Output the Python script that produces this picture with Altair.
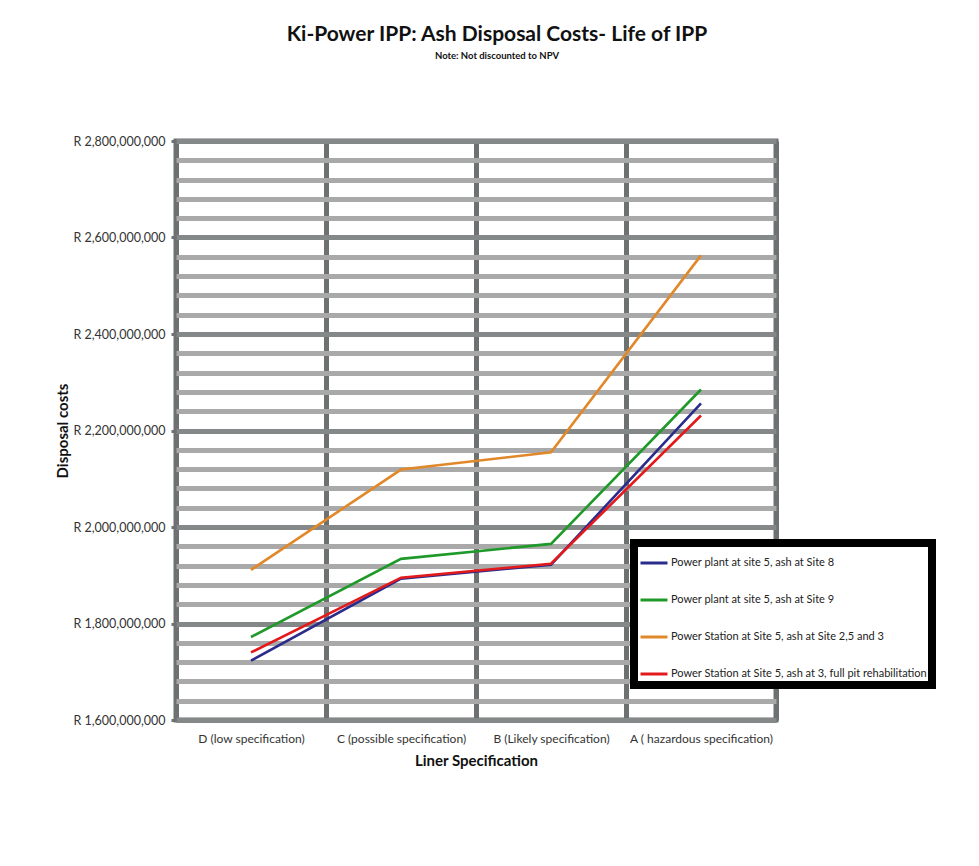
import altair as alt
import pandas as pd

categories = [
    "D (low specification)",
    "C (possible specification)",
    "B (Likely specification)",
    "A ( hazardous specification)",
]
series_names = [
    "Power plant at site 5, ash at Site 8",
    "Power plant at site 5, ash at Site 9",
    "Power Station at Site 5, ash at Site 2,5 and 3",
    "Power Station at Site 5, ash at 3, full pit rehabilitation",
]
site8 = [1723e6, 1893e6, 1922e6, 2256e6]
site9 = [1772e6, 1934e6, 1965e6, 2285e6]
site253 = [1911e6, 2119e6, 2155e6, 2563e6]
pit = [1740e6, 1895e6, 1924e6, 2231e6]
colors = ["#2b2b8c", "#1f9a2a", "#e0882a", "#e31a1c"]

y_ticks = [1600000000 + k * 40000000 for k in range(31)]

rows = []
for name, vals in zip(series_names, [site8, site9, site253, pit]):
    for c, v in zip(categories, vals):
        rows.append({"spec": c, "cost": v, "series": name})
df = pd.DataFrame(rows)

FONT = "Lato"

chart = (
    alt.Chart(df)
    .mark_line(strokeWidth=2.6)
    .encode(
        x=alt.X(
            "spec:N",
            sort=categories,
            bandPosition=0.5,
            scale=alt.Scale(type="band", paddingInner=0, paddingOuter=0),
            axis=alt.Axis(
                title="Liner Specification",
                tickBand="extent",
                grid=True,
                gridColor="#6d7171",
                gridWidth=5,
                ticks=False,
                domain=False,
                labelAngle=0,
                labelFont=FONT,
                labelFontSize=12,
                labelColor="#333333",
                labelPadding=13,
                titleFont=FONT,
                titleFontSize=15,
                titleFontWeight="bold",
                titleColor="#111111",
                titlePadding=9,
            ),
        ),
        y=alt.Y(
            "cost:Q",
            scale=alt.Scale(domain=[1600000000, 2800000000], nice=False, zero=False),
            axis=alt.Axis(
                title="Disposal costs",
                values=y_ticks,
                labelExpr="datum.value % 200000000 == 0 ? 'R ' + format(datum.value, ',') : ''",
                grid=True,
                gridColor={
                    "condition": {"test": "datum.value % 200000000 == 0", "value": "#858888"},
                    "value": "#a9a9a9",
                },
                gridWidth=5,
                domain=False,
                ticks=True,
                tickSize=5,
                tickWidth=3,
                tickColor="#6d7171",
                tickOpacity={
                    "condition": {"test": "datum.value % 200000000 == 0", "value": 1},
                    "value": 0,
                },
                labelFont=FONT,
                labelFontSize=12.5,
                labelColor="#333333",
                labelPadding=6,
                titleFont=FONT,
                titleFontSize=15,
                titleFontWeight="bold",
                titleColor="#111111",
                titlePadding=2,
            ),
        ),
        color=alt.Color(
            "series:N",
            sort=series_names,
            scale=alt.Scale(domain=series_names, range=colors),
            legend=alt.Legend(
                title=None,
                orient="none",
                legendX=458,
                legendY=402,
                direction="vertical",
                fillColor="white",
                padding=5,
                symbolType="stroke",
                symbolSize=729,
                symbolStrokeWidth=3,
                labelFont=FONT,
                labelFontSize=11,
                labelColor="#222222",
                labelLimit=262,
                labelOffset=2,
                rowPadding=16,
            ),
        ),
    )
    .properties(
        width=600,
        height=579,
        autosize=alt.AutoSizeParams(type="none"),
        padding={"left": 168, "top": 133, "right": 195, "bottom": 138},
        background="white",
        title=alt.TitleParams(
            text="Ki-Power IPP: Ash Disposal Costs- Life of IPP",
            subtitle="Note: Not discounted to NPV",
            font=FONT,
            fontSize=21,
            fontWeight="bold",
            color="#111111",
            subtitleFont=FONT,
            subtitleFontSize=9.5,
            subtitleFontWeight="bold",
            subtitleColor="#111111",
            subtitlePadding=6,
            anchor="middle",
            offset=75,
            dx=21,
        ),
    )
    .configure_view(stroke="#6d7171", strokeWidth=5)
    .configure_legend(strokeColor="black", strokeWidth=8, cornerRadius=0)
)

chart.save("out.html", embed_options={"renderer": "svg", "actions": False})
